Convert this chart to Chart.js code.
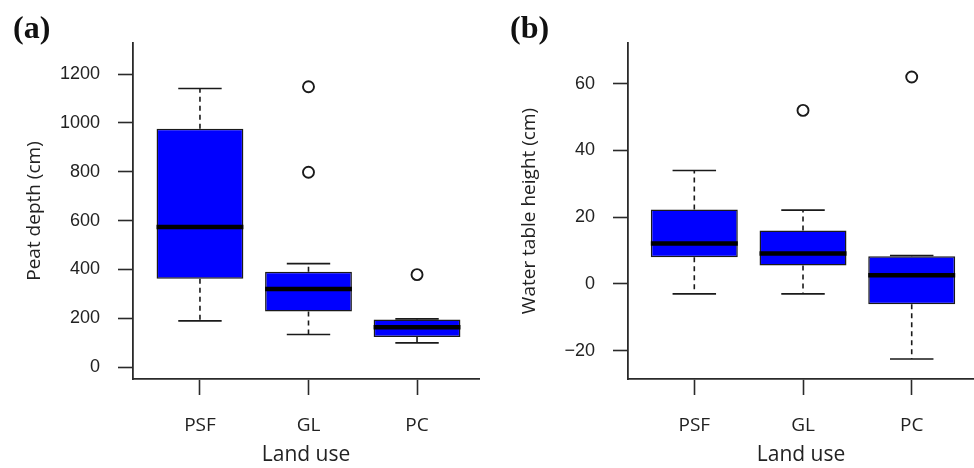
<!DOCTYPE html>
<html>
<head>
<meta charset="utf-8">
<script src="https://cdn.jsdelivr.net/npm/chart.js@4"></script>
<style>
  html, body { margin: 0; padding: 0; background: #ffffff; overflow: hidden; }
  #wrap { position: relative; width: 974px; height: 468px; background: #ffffff; }
  .panel { position: absolute; top: 0; height: 468px; }
  .tag { position: absolute; font-family: 'Liberation Serif', 'Times New Roman', serif; font-weight: bold;
         font-size: 32px; line-height: 32px; color: #111; }
</style>
</head>
<body>
<div id="wrap">
  <div class="panel" style="left:0;width:490px"><canvas id="chartA" width="490" height="468"></canvas></div>
  <div class="panel" style="left:490px;width:484px"><canvas id="chartB" width="484" height="468"></canvas></div>
  <div class="tag" style="left:13px;top:11px">(a)</div>
  <div class="tag" style="left:510px;top:11px">(b)</div>
</div>
<script>
// ---------------- data ----------------
const categories = ['PSF', 'GL', 'PC'];

// (a) Peat depth (cm)
const peatWhiskerLow  = [190, 134, 100];
const peatQ1          = [362, 228, 124];
const peatMedian      = [574, 320, 164];
const peatQ3          = [976, 391, 195];
const peatWhiskerHigh = [1141, 424, 198];
const peatOutliers    = [[], [1148, 798], [379]];
const peatTicks       = [0, 200, 400, 600, 800, 1000, 1200];

// (b) Water table height (cm)
const wtWhiskerLow  = [-3.0, -3.0, -22.5];
const wtQ1          = [8.0, 5.5, -6.1];
const wtMedian      = [12.1, 9.1, 2.6];
const wtQ3          = [22.3, 16.0, 8.3];
const wtWhiskerHigh = [34.0, 22.1, 8.5];
const wtOutliers    = [[], [52.0], [62.0]];
const wtTicks       = [-20, 0, 20, 40, 60];

// ---------------- styling constants ----------------
const BOX_HALF = 0.4;    // half box width in category units
const CAP_HALF = 0.2;    // half whisker-cap width in category units
const INK = '#1a1a1a';
const AXIS = '#2a2a2a';
const SANS = "'Open Sans', 'Noto Sans', sans-serif";
const NUMFONT = "'Liberation Sans', Arial, sans-serif";

function fmtNum(v) {
  return v < 0 ? '\u2212' + String(-v) : String(v);
}

function buildChart(canvasId, s) {
  const pos = categories.map((_, i) => i + 1);

  const boxData = pos.map((x, i) => ({ x: x, y: [s.q1[i], s.q3[i]] }));

  const whiskerData = [];
  const capData = [];
  const medianData = [];
  const outlierData = [];
  pos.forEach((x, i) => {
    whiskerData.push({ x: x, y: s.q3[i] }, { x: x, y: s.hi[i] }, { x: x, y: null },
                     { x: x, y: s.q1[i] }, { x: x, y: s.lo[i] }, { x: x, y: null });
    capData.push({ x: x - CAP_HALF, y: s.hi[i] }, { x: x + CAP_HALF, y: s.hi[i] }, { x: x, y: null },
                 { x: x - CAP_HALF, y: s.lo[i] }, { x: x + CAP_HALF, y: s.lo[i] }, { x: x, y: null });
    medianData.push({ x: x - BOX_HALF, y: s.med[i] }, { x: x + BOX_HALF, y: s.med[i] }, { x: x, y: null });
    s.out[i].forEach(v => outlierData.push({ x: x, y: v }));
  });

  const lineBase = { type: 'line', showLine: true, pointRadius: 0, pointHoverRadius: 0, fill: false,
                     tension: 0, spanGaps: false, borderCapStyle: 'butt', backgroundColor: 'transparent' };

  return new Chart(document.getElementById(canvasId), {
    type: 'scatter',
    data: {
      datasets: [
        Object.assign({}, lineBase, { label: 'whiskers', data: whiskerData, borderColor: INK,
                      borderWidth: 1.6, borderDash: [5, 4], order: 4 }),
        Object.assign({}, lineBase, { label: 'caps', data: capData, borderColor: INK,
                      borderWidth: 1.6, order: 3 }),
        { type: 'bar', label: 'box', data: boxData, backgroundColor: '#0000ff', borderColor: INK,
          borderWidth: 1.5, borderSkipped: false, barPercentage: 0.8, categoryPercentage: 1.0, order: 2 },
        Object.assign({}, lineBase, { label: 'median', data: medianData, borderColor: '#000000',
                      borderWidth: 4.5, order: 1 }),
        { type: 'scatter', label: 'outliers', data: outlierData, pointStyle: 'circle', pointRadius: 5.5,
          pointHoverRadius: 5.5, pointBorderWidth: 1.9, pointBackgroundColor: 'transparent',
          pointBorderColor: INK, borderColor: INK, backgroundColor: 'transparent', order: 0 }
      ]
    },
    options: {
      responsive: false,
      animation: false,
      events: [],
      layout: { autoPadding: false, padding: { top: 43, right: s.padRight, left: 0, bottom: 0 } },
      plugins: { legend: { display: false }, tooltip: { enabled: false }, title: { display: false } },
      scales: {
        x: {
          type: 'linear', min: s.xMin, max: s.xMax, offset: false,
          afterBuildTicks: sc => { sc.ticks = pos.map(v => ({ value: v })); },
          afterFit: sc => { sc.height = 89; },
          ticks: { callback: v => categories[Math.round(v) - 1] || '', font: { family: SANS, size: 19 },
                   color: '#222', padding: 19, maxRotation: 0, autoSkip: false },
          grid: { drawOnChartArea: false, drawTicks: true, tickLength: 16, tickWidth: 1.6,
                  tickColor: AXIS, offset: false },
          border: { display: true, color: AXIS, width: 1.8 },
          title: { display: true, text: 'Land use', font: { family: SANS, size: 21 }, color: '#222',
                   padding: { top: 0, bottom: 0 } }
        },
        y: {
          type: 'linear', min: s.yMin, max: s.yMax,
          afterBuildTicks: sc => { sc.ticks = s.ticks.map(v => ({ value: v })); },
          afterFit: sc => { sc.width = s.yWidth; },
          ticks: { callback: v => fmtNum(v), font: { family: NUMFONT, size: 18 }, color: '#222', padding: 18 },
          grid: { drawOnChartArea: false, drawTicks: true, tickLength: 15, tickWidth: 1.6, tickColor: AXIS },
          border: { display: true, color: AXIS, width: 1.8 },
          title: { display: true, text: s.yTitle, font: { family: SANS, size: 19 }, color: '#222',
                   padding: { top: s.yTitlePad, bottom: 0 } }
        }
      }
    }
  });
}

buildChart('chartA', {
  q1: peatQ1, med: peatMedian, q3: peatQ3, lo: peatWhiskerLow, hi: peatWhiskerHigh, out: peatOutliers,
  ticks: peatTicks, yMin: -48, yMax: 1327, xMin: 0.383, xMax: 3.571,
  yWidth: 133, padRight: 11, yTitle: 'Peat depth (cm)', yTitlePad: 23
});

buildChart('chartB', {
  q1: wtQ1, med: wtMedian, q3: wtQ3, lo: wtWhiskerLow, hi: wtWhiskerHigh, out: wtOutliers,
  ticks: wtTicks, yMin: -28.5, yMax: 72.2, xMin: 0.39, xMax: 3.573,
  yWidth: 138, padRight: 0, yTitle: 'Water table height (cm)', yTitlePad: 28
});
</script>
</body>
</html>
